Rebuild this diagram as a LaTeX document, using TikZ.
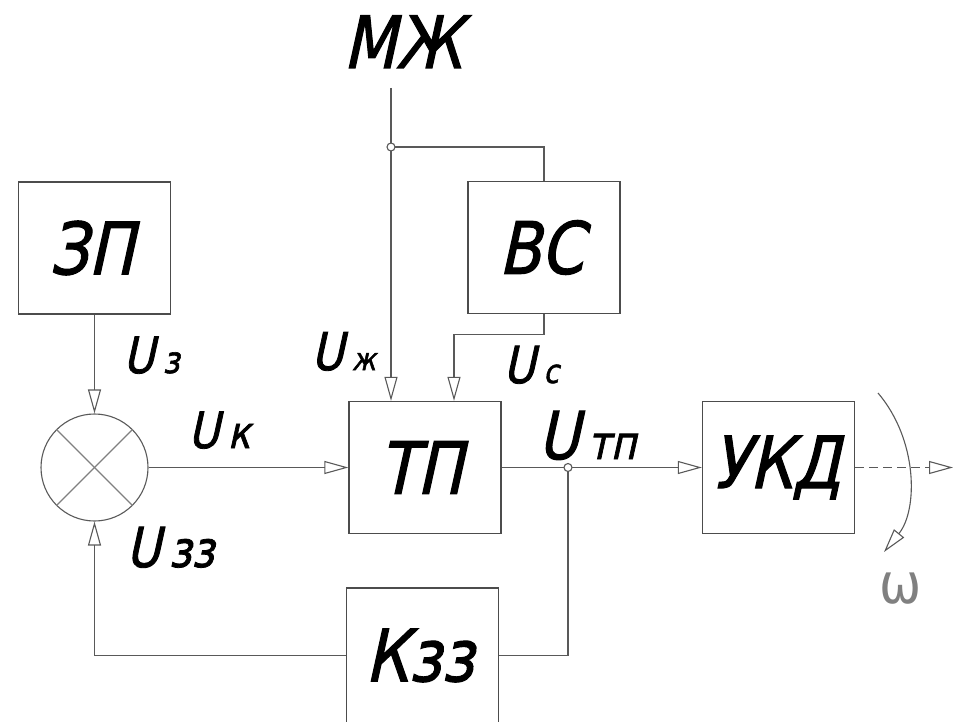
\documentclass[tikz,border=0pt]{standalone}
\usepackage{fontspec}
\setmainfont{DejaVu Sans}
\newfontfamily\gost[FakeSlant=0.22,FakeStretch=0.85,FakeBold=1.6]{DejaVu Sans}
\newfontfamily\gostthin[FakeStretch=0.9]{DejaVu Sans}
\usetikzlibrary{arrows.meta,calc}
\newcommand\lbl[4]{{\fontsize{#3}{#3}\selectfont #1}\kern8.5pt{\fontsize{#4}{#4}\selectfont #2}}
\tikzset{
  wire/.style={draw=black!65, line width=1.1pt},
  arr/.style={-{Triangle[open,length=24pt,width=13pt]}},
  blk/.style={draw=black!70, line width=1.3pt, minimum width=152pt, minimum height=132pt,
    inner sep=0pt, font=\gost\fontsize{72}{72}\selectfont},
  lab/.style={inner sep=0pt, anchor=base west, font=\gost},
  jdot/.style={draw=black!65, line width=1.1pt, fill=white, circle, inner sep=0pt, minimum size=8pt}
}
\begin{document}
\begin{tikzpicture}[x=1pt,y=-1pt]
\useasboundingbox (0,0) rectangle (955,722);
% blocks
\node[blk] (zp)  at (94.5,248)  {\kern-6pt ЗП};
\node[blk] (bc)  at (544,247.5) {\kern-6pt ВС};
\node[blk] (tp)  at (425,467.5) {\kern-8pt ТП};
\node[blk] (ukd) at (778.5,467.5) {\kern-4pt УКД};
\node[blk, minimum height=135pt] (kzz) at (422.5,655.5) {\kern-6pt Кзз};
% summing junction
\node[draw=black!65, line width=1.1pt, circle, minimum size=107pt, inner sep=0pt] (sum) at (94.5,467.5) {};
\draw[wire, draw=black!50] (sum.north west) -- (sum.south east);
\draw[wire, draw=black!50] (sum.north east) -- (sum.south west);
% labels
\node[lab, font=\gost\fontsize{72}{72}\selectfont] (mzh) at (343,68) {МЖ};
\node[lab] (lz)  at (123,373) {\lbl{U}{з}{50}{37}};
\node[lab] (lk)  at (188,448) {\lbl{U}{к}{50}{44}};
\node[lab] (lzz) at (126,567) {\lbl{U}{зз}{55}{50}};
\node[lab] (lzh) at (311,370) {\lbl{U}{ж}{52}{31}};
\node[lab] (lc)  at (503,383) {\lbl{U}{с}{51}{33}};
\node[lab] (ltp) at (538,459) {\lbl{U}{тп}{66}{46}};
\node[inner sep=0pt, text=black!50, font=\gostthin\fontsize{56}{56}\selectfont] (om) at (901,589) {ω};
% coordinates
\coordinate (mtop) at (391,88);
\coordinate (j2) at (391,147);
\coordinate (j1) at (568,467.5);
\coordinate (c1) at ($(bc.south)+(0,20)$);
\coordinate (out) at (953,467.5);
\coordinate (a1) at (878,393);
\coordinate (a2) at (884,552);
% connectors
\draw[wire,arr] (zp.south) -- (sum.north);
\draw[wire,arr] (sum.east) -- (tp.west);
\draw[wire,arr] (tp.east) -- (ukd.west);
\draw[wire] (j1) |- (kzz.east);
\draw[wire,arr] (kzz.west) -| (sum.south);
\draw[wire,arr] (mtop) -- (mtop |- tp.north);
\draw[wire] (j2) -| (bc.north);
\draw[wire,arr] (bc.south) -- (c1) -| ([xshift=29pt]tp.north);
\draw[wire,dashed,dash pattern=on 9pt off 5pt,arr] (ukd.east) -- (out);
\draw[wire,arr] (a1) .. controls (918,440) and (918,510) .. (a2);
\node[jdot] (d1) at (j1) {};
\node[jdot] (d2) at (j2) {};
\end{tikzpicture}
\end{document}
